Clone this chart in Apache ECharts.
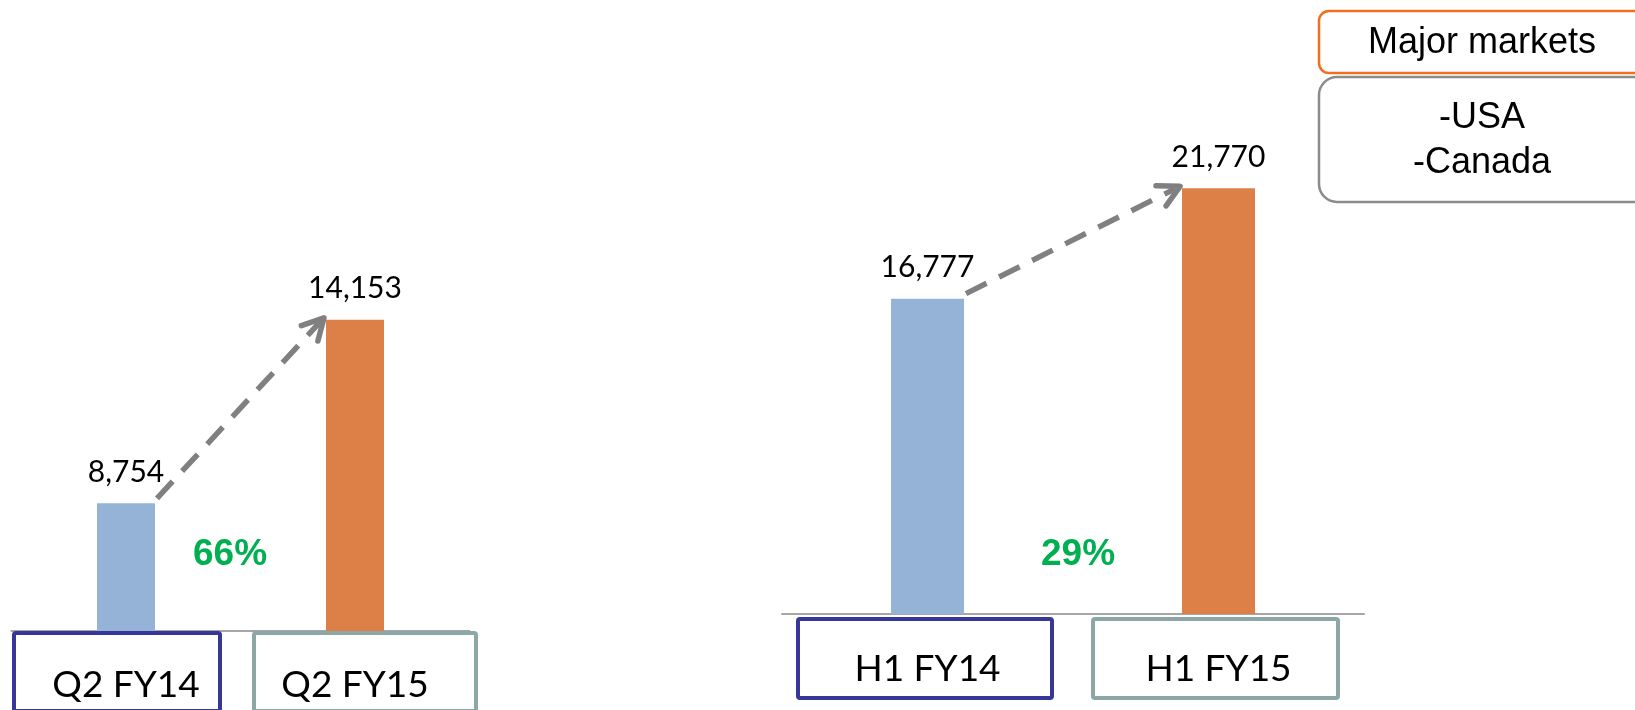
<!DOCTYPE html>
<html>
<head>
<meta charset="utf-8">
<script src="https://cdn.jsdelivr.net/npm/echarts@6/dist/echarts.min.js"></script>
<style>
html, body { margin: 0; padding: 0; background: #fff; }
#main { width: 1635px; height: 710px; }
</style>
</head>
<body>
<div id="main"></div>
<script>
// data
const quarterCats = ['Q2 FY14', 'Q2 FY15'];
const quarterValues = [8754, 14153];
const halfCats = ['H1 FY14', 'H1 FY15'];
const halfValues = [16777, 21770];
const growthTexts = ['66%', '29%'];
const marketsTitle = 'Major markets';
const marketsList = ['-USA', '-Canada'];

const barColors = ['#95B3D7', '#DD8047'];
const boxColors = ['#373799', '#8DA7A7'];
const calibriLike = 'Lato, "Liberation Sans", sans-serif';
const arialLike = '"Liberation Sans", Arial, sans-serif';

const chart = echarts.init(document.getElementById('main'));

function xAxisFor(gridIndex, cats, margin) {
	return {
		type: 'category',
		gridIndex: gridIndex,
		data: cats,
		axisTick: { show: false },
		axisLine: { show: true, lineStyle: { color: '#A6A6A6', width: 2 } },
		axisLabel: {
			interval: 0,
			margin: margin,
			verticalAlign: 'middle',
			fontFamily: calibriLike,
			fontSize: 37,
			color: '#000'
		}
	};
}

function barSeries(index, values, width) {
	return {
		type: 'bar',
		xAxisIndex: index,
		yAxisIndex: index,
		barWidth: width,
		data: values,
		itemStyle: { color: (p) => barColors[p.dataIndex] },
		label: {
			show: true,
			position: 'top',
			distance: 16,
			fontFamily: calibriLike,
			fontSize: 30,
			lineHeight: 30,
			color: '#000',
			formatter: (p) => p.value.toLocaleString('en-US')
		}
	};
}

chart.setOption({
	animation: false,
	grid: [
		{ left: 11.5, width: 458, top: 121, height: 510 },
		{ left: 782, width: 582, top: 117, height: 497 }
	],
	xAxis: [xAxisFor(0, quarterCats, 54), xAxisFor(1, halfCats, 55)],
	yAxis: [
		{ type: 'value', gridIndex: 0, min: 5000, max: 20000, show: false },
		{ type: 'value', gridIndex: 1, min: 2500, max: 25000, show: false }
	],
	series: [barSeries(0, quarterValues, 58), barSeries(1, halfValues, 73)]
});

// dashed growth arrow between the two bar tops
function arrow(gridIndex, values, barWidth) {
	const a = chart.convertToPixel({ gridIndex: gridIndex }, [0, values[0]]);
	const b = chart.convertToPixel({ gridIndex: gridIndex }, [1, values[1]]);
	const x1 = a[0] + barWidth / 2 + 2, y1 = a[1] - 5;
	const x2 = b[0] - barWidth / 2 - 2, y2 = b[1] - 2;
	const ang = Math.atan2(y2 - y1, x2 - x1);
	const len = 24, spread = Math.PI * 28 / 180;
	const head = [
		[x2 - len * Math.cos(ang - spread), y2 - len * Math.sin(ang - spread)],
		[x2, y2],
		[x2 - len * Math.cos(ang + spread), y2 - len * Math.sin(ang + spread)]
	];
	return [
		{
			type: 'polyline', z: 100,
			shape: { points: [[x1, y1], [x2 - 6 * Math.cos(ang), y2 - 6 * Math.sin(ang)]] },
			style: { stroke: '#808080', lineWidth: 5.5, lineDash: [23, 14], fill: null }
		},
		{
			type: 'polyline', z: 100,
			shape: { points: head },
			style: { stroke: '#808080', lineWidth: 5.5, lineCap: 'round', lineJoin: 'round', fill: null }
		}
	];
}

function catBox(x0, y0, x1, y1, color) {
	return {
		type: 'rect', z: 100,
		shape: { x: x0 + 2, y: y0 + 2, width: x1 - x0 - 4, height: y1 - y0 - 4, r: 2 },
		style: { stroke: color, lineWidth: 4, fill: null }
	};
}

function text(str, x, y, size, weight, color, family) {
	return {
		type: 'text', z: 110,
		style: {
			text: str, x: x, y: y, align: 'center', verticalAlign: 'middle',
			fontSize: size, fontWeight: weight, fontFamily: family, fill: color
		}
	};
}

const graphics = []
	.concat(arrow(0, quarterValues, 58))
	.concat(arrow(1, halfValues, 73))
	.concat([
		catBox(12, 631, 222, 713, boxColors[0]),
		catBox(252, 631, 478, 713, boxColors[1]),
		catBox(796, 617, 1054, 700, boxColors[0]),
		catBox(1091, 617, 1340, 700, boxColors[1]),
		text(growthTexts[0], 230, 555, 37, 'bold', '#00B050', arialLike),
		text(growthTexts[1], 1078, 555, 37, 'bold', '#00B050', arialLike),
		{
			type: 'rect', z: 100,
			shape: { x: 1319, y: 11, width: 400, height: 62, r: 10 },
			style: { stroke: '#F26F21', lineWidth: 2.5, fill: '#fff' }
		},
		{
			type: 'rect', z: 100,
			shape: { x: 1319, y: 77, width: 400, height: 125, r: 18 },
			style: { stroke: '#8C8C8C', lineWidth: 2.5, fill: '#fff' }
		},
		text(marketsTitle, 1482, 43, 36, 'normal', '#000', arialLike),
		text(marketsList[0], 1482, 118, 36, 'normal', '#000', arialLike),
		text(marketsList[1], 1482, 163, 36, 'normal', '#000', arialLike)
	]);

chart.setOption({ graphic: graphics });
</script>
</body>
</html>
